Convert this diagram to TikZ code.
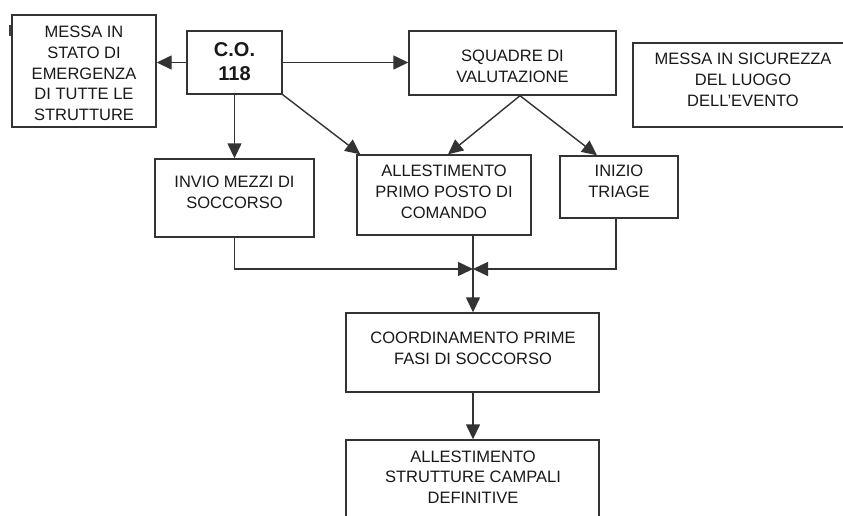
\documentclass[tikz,border=0pt]{standalone}
\usepackage{fontspec}
\setmainfont{Liberation Sans}
\usetikzlibrary{arrows.meta}
\begin{document}
\begin{tikzpicture}[x=1pt, y=-1pt,
  box/.style={draw=black!80, line width=1.4pt, inner sep=0pt},
  lbl/.style={align=center, inner sep=0pt, text=black!90,
              font=\fontsize{16.5}{20.7}\selectfont},
  bold lbl/.style={lbl, font=\fontsize{20}{24}\selectfont\bfseries},
  link/.style={draw=black!80, line width=1.4pt},
  arr/.style={link, -{Triangle[length=15pt, width=14pt]}}]
\clip (0,0) rectangle (843,515);
\fill[white] (0,0) rectangle (843,515);

% boxes
\node[box, minimum width=144pt, minimum height=112pt] (emerg) at (84,71) {};
\node[box, minimum width=95pt,  minimum height=63pt]  (co)    at (234.5,62.5) {};
\node[box, minimum width=207pt, minimum height=64pt]  (squad) at (512.5,63) {};
\node[box, minimum width=222pt, minimum height=84pt]  (sicur) at (744,85) {};
\node[box, minimum width=159pt, minimum height=78pt]  (invio) at (234.5,198) {};
\node[box, minimum width=174pt, minimum height=80pt]  (allest) at (444,195) {};
\node[box, minimum width=118pt, minimum height=62pt]  (triage) at (619,187) {};
\node[box, minimum width=253pt, minimum height=79pt]  (coord) at (472.5,352.5) {};
\node[box, minimum width=253pt, minimum height=100pt] (final) at (472.5,490) {};

% texts
\node[lbl] (emerg-t) at (84,73.5) {MESSA IN\\STATO DI\\EMERGENZA\\DI TUTTE LE\\STRUTTURE};
\node[bold lbl] (co-t) at (234.5,62) {C.O.\\118};
\node[lbl] (squad-t) at (512.5,66) {SQUADRE DI\\VALUTAZIONE};
\node[lbl] (sicur-t) at (743,80) {MESSA IN SICUREZZA\\DEL LUOGO\\DELL'EVENTO};
\node[lbl] (invio-t) at (234.5,192) {INVIO MEZZI DI\\SOCCORSO};
\node[lbl] (allest-t) at (444,192) {ALLESTIMENTO\\PRIMO POSTO DI\\COMANDO};
\node[lbl] (triage-t) at (619,181.5) {INIZIO\\TRIAGE};
\node[lbl] (coord-t) at (473,348) {COORDINAMENTO PRIME\\FASI DI SOCCORSO};
\node[lbl] (final-t) at (473,477) {ALLESTIMENTO\\STRUTTURE CAMPALI\\DEFINITIVE};

% stray mark at the left border
\draw[line width=1.8pt, black!75] (10,25) -- (10,36);

% helper points
\coordinate (apex) at ([xshift=7.5pt]squad.south);
\coordinate (merge) at (473,269);

% connectors
\draw[arr] (co.west) -- (emerg.east |- co.west);
\draw[arr] (co.east) -- (squad.west |- co.east);
\draw[arr] (co.south) -- (invio.north);
\draw[arr] (co.south east) -- ([xshift=4pt]allest.north west);
\draw[arr] (apex) -- ([xshift=4pt]allest.north);
\draw[arr] (apex) -- ([xshift=-22pt]triage.north);
\draw[arr] (invio.south) |- (merge);
\draw[arr] ([xshift=-3pt]triage.south) |- (merge);
\draw[arr] ([xshift=29pt]allest.south) -- (coord.north -| merge);
\draw[arr] (coord.south -| merge) -- (final.north -| merge);
\end{tikzpicture}
\end{document}
